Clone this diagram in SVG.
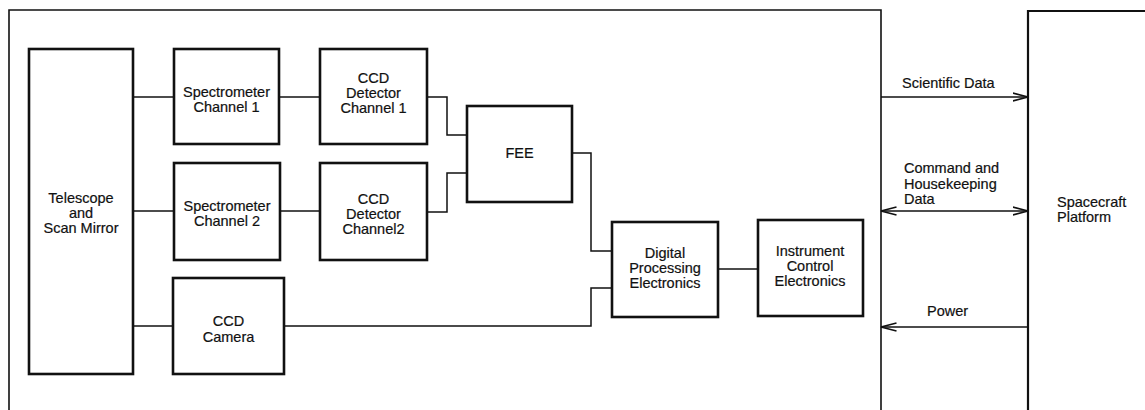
<svg xmlns="http://www.w3.org/2000/svg" width="1145" height="410" viewBox="0 0 1145 410">
<defs>
<style>
.box{fill:#fff;stroke:#111;stroke-width:2.6}
.frame{fill:none;stroke:#111;stroke-width:1.6}
.ln{fill:none;stroke:#111;stroke-width:1.5}
text{font-family:"Liberation Sans",Arial,Helvetica,sans-serif;font-size:14.5px;fill:#111;stroke:#111;stroke-width:0.2}
.c{text-anchor:middle}
</style>
<marker id="arr" markerWidth="17" markerHeight="10" refX="15.5" refY="5" orient="auto-start-reverse" markerUnits="userSpaceOnUse">
<path d="M0,1 L15.5,5 L0,9" fill="none" stroke="#111" stroke-width="1.6"/>
</marker>
</defs>
<rect width="1145" height="410" fill="#fff"/>

<g id="instrument-frame">
<path class="frame" d="M9,410 L9,10 L881,10 L881,410"/>
</g>

<g id="spacecraft">
<path class="frame" style="stroke-width:2.2" d="M1028,410 L1028,11 L1145,11"/>
<text x="1057" y="207">Spacecraft</text>
<text x="1057" y="222">Platform</text>
</g>

<g id="connectors">
<line class="ln" x1="133" y1="97" x2="174" y2="97"/>
<line class="ln" x1="279" y1="97" x2="320" y2="97"/>
<line class="ln" x1="133" y1="211" x2="174" y2="211"/>
<line class="ln" x1="280" y1="211" x2="320" y2="211"/>
<line class="ln" x1="133" y1="326" x2="173" y2="326"/>
<polyline class="ln" points="427,97 447,97 447,135 467,135"/>
<polyline class="ln" points="427,212 447,212 447,173 467,173"/>
<polyline class="ln" points="572,153 591,153 591,251 612,251"/>
<polyline class="ln" points="284,326 591,326 591,288 612,288"/>
<line class="ln" x1="718" y1="269" x2="758" y2="269"/>
<line class="ln" x1="881" y1="97" x2="1028" y2="97" marker-end="url(#arr)"/>
<line class="ln" x1="881" y1="211" x2="1028" y2="211" marker-start="url(#arr)" marker-end="url(#arr)"/>
<line class="ln" x1="1028" y1="327" x2="881" y2="327" marker-end="url(#arr)"/>
<text x="902" y="88">Scientific Data</text>
<text x="904" y="173">Command and</text>
<text x="904" y="188.5">Housekeeping</text>
<text x="904" y="204">Data</text>
<text x="927" y="316">Power</text>
</g>

<g id="telescope">
<rect class="box" x="29" y="49" width="104" height="325"/>
<text class="c" x="81" y="203">Telescope</text>
<text class="c" x="81" y="218">and</text>
<text class="c" x="81" y="233">Scan Mirror</text>
</g>

<g id="spectrometer1">
<rect class="box" x="174" y="49" width="105" height="95"/>
<text class="c" x="226.5" y="97">Spectrometer</text>
<text class="c" x="226.5" y="112">Channel 1</text>
</g>

<g id="spectrometer2">
<rect class="box" x="174" y="163" width="106" height="97"/>
<text class="c" x="227" y="211">Spectrometer</text>
<text class="c" x="227" y="226">Channel 2</text>
</g>

<g id="ccd-camera">
<rect class="box" x="173" y="278" width="111" height="96"/>
<text class="c" x="228.5" y="326">CCD</text>
<text class="c" x="228.5" y="342">Camera</text>
</g>

<g id="ccd-detector1">
<rect class="box" x="320" y="49" width="107" height="95"/>
<text class="c" x="373.5" y="83">CCD</text>
<text class="c" x="373.5" y="98">Detector</text>
<text class="c" x="373.5" y="113">Channel 1</text>
</g>

<g id="ccd-detector2">
<rect class="box" x="320" y="163" width="107" height="97"/>
<text class="c" x="373.5" y="204">CCD</text>
<text class="c" x="373.5" y="219">Detector</text>
<text class="c" x="373.5" y="234">Channel2</text>
</g>

<g id="fee">
<rect class="box" x="467" y="106" width="105" height="96"/>
<text class="c" x="519.5" y="158">FEE</text>
</g>

<g id="dpe">
<rect class="box" x="612" y="222" width="106" height="95"/>
<text class="c" x="665" y="258">Digital</text>
<text class="c" x="665" y="273">Processing</text>
<text class="c" x="665" y="288">Electronics</text>
</g>

<g id="ice">
<rect class="box" x="758" y="220" width="105" height="96"/>
<text class="c" x="810" y="256">Instrument</text>
<text class="c" x="810" y="271">Control</text>
<text class="c" x="810" y="286">Electronics</text>
</g>
</svg>
